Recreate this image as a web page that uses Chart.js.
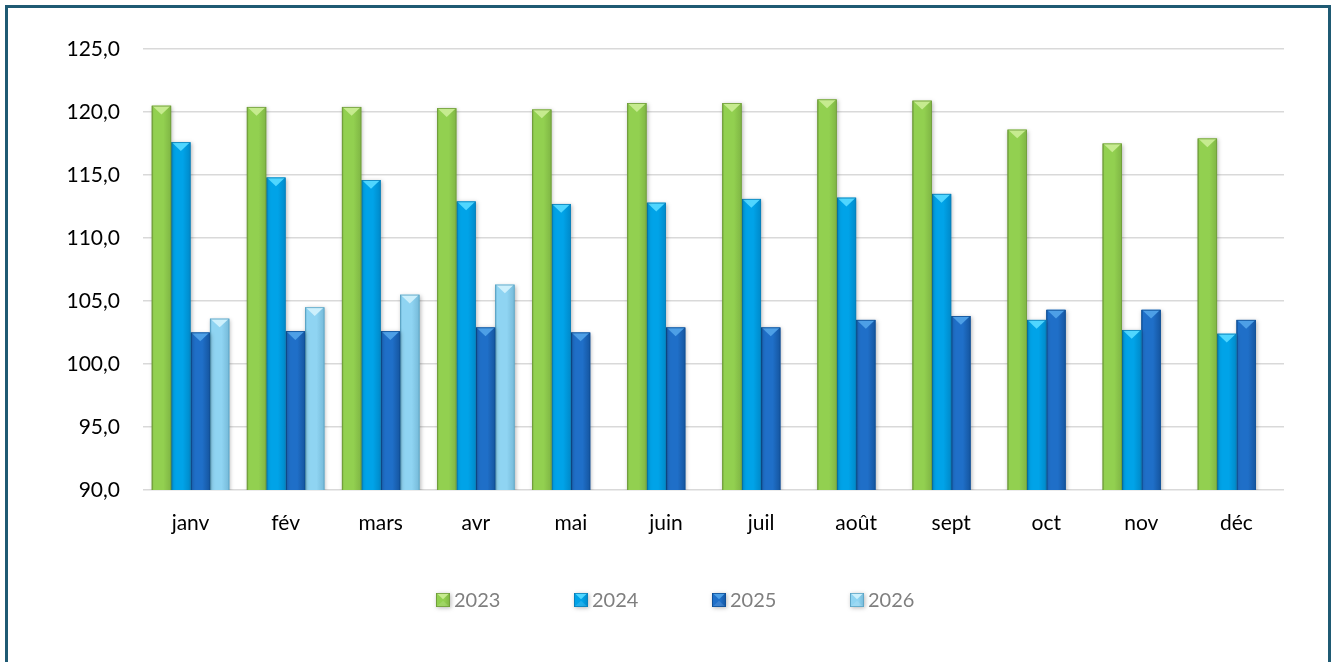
<!DOCTYPE html>
<html lang="fr">
<head>
<meta charset="utf-8">
<script src="https://cdn.jsdelivr.net/npm/chart.js@4.4.1/dist/chart.umd.min.js"></script>
<style>
  html, body { margin: 0; padding: 0; background: #fff; }
  #zone { position: absolute; left: 0; top: 0; width: 1338px; height: 662px; }
  #cadre { position: absolute; left: 5px; top: 5px; width: 1320px; height: 700px;
           border: 3px solid #1f5a73; pointer-events: none; }
</style>
</head>
<body>
<div id="zone"><canvas id="graphique"></canvas></div>
<div id="cadre"></div>
<script>
// Données
let mois = ["janv", "fév", "mars", "avr", "mai", "juin", "juil", "août", "sept", "oct", "nov", "déc"];
let annees = ["2023", "2024", "2025", "2026"];
let val2023 = [120.5, 120.4, 120.4, 120.3, 120.2, 120.7, 120.7, 121.0, 120.9, 118.6, 117.5, 117.9];
let val2024 = [117.6, 114.8, 114.6, 112.9, 112.7, 112.8, 113.1, 113.2, 113.5, 103.5, 102.7, 102.4];
let val2025 = [102.5, 102.6, 102.6, 102.9, 102.5, 102.9, 102.9, 103.5, 103.8, 104.3, 104.3, 103.5];
let val2026 = [103.6, 104.5, 105.5, 106.3, null, null, null, null, null, null, null, null];
let graduations = [90, 95, 100, 105, 110, 115, 120, 125];

// Teintes des barres (bord, milieu, foncé, chapeau)
let teintes = [
  { bord: "#6f9c3a", milieu: "#92d050", fonce: "#7fb544", cap: "#c6eb8f" },
  { bord: "#0a7fb8", milieu: "#00a3e8", fonce: "#0089c9", cap: "#4fd6ff" },
  { bord: "#0e4f96", milieu: "#1f6fc8", fonce: "#15559f", cap: "#4d9fe6" },
  { bord: "#5aa3c4", milieu: "#8fd4f2", fonce: "#75b9d8", cap: "#cdf0fc" }
];

let dessinerBarre = (ctx, l, r, t, b, c) => {
  let w = r - l;
  ctx.save();
  ctx.shadowColor = "rgba(0,0,0,0.28)";
  ctx.shadowBlur = 4;
  ctx.shadowOffsetX = 1;
  ctx.shadowOffsetY = 1;
  let g = ctx.createLinearGradient(l, 0, r, 0);
  g.addColorStop(0, c.bord);
  g.addColorStop(0.1, c.milieu);
  g.addColorStop(0.6, c.milieu);
  g.addColorStop(1, c.fonce);
  ctx.fillStyle = g;
  ctx.fillRect(l, t, w, b - t);
  ctx.restore();
  // chapeau triangulaire
  let h = Math.min(w * 0.45, (b - t) / 2);
  ctx.fillStyle = c.cap;
  ctx.beginPath();
  ctx.moveTo(l + 0.5, t);
  ctx.lineTo(r - 0.5, t);
  ctx.lineTo((l + r) / 2, t + h);
  ctx.closePath();
  ctx.fill();
  // reflet bas
  ctx.fillStyle = "rgba(255,255,255,0.12)";
  ctx.beginPath();
  ctx.moveTo(l, b);
  ctx.lineTo(r, b);
  ctx.lineTo((l + r) / 2, b - h);
  ctx.closePath();
  ctx.fill();
  ctx.strokeStyle = c.bord;
  ctx.lineWidth = 0.8;
  ctx.strokeRect(l + 0.4, t + 0.4, w - 0.8, b - t - 0.8);
};

let barres3D = {
  id: "barres3D",
  afterDatasetDraw(chart, args) {
    let ctx = chart.ctx;
    let c = teintes[args.index];
    let donnees = chart.data.datasets[args.index].data;
    ctx.save();
    ctx.beginPath();
    ctx.rect(chart.chartArea.left - 5, chart.chartArea.top - 5, chart.chartArea.width + 10, chart.chartArea.height + 5);
    ctx.clip();
    args.meta.data.forEach((barre, i) => {
      if (donnees[i] == null) return;
      let p = barre.getProps(["x", "y", "base", "width"], true);
      dessinerBarre(ctx, p.x - p.width / 2, p.x + p.width / 2, p.y, p.base, c);
    });
    ctx.restore();
  },
  afterDraw(chart) {
    // légende dessinée à la main
    let ctx = chart.ctx;
    let pas = 138;
    let x0 = chart.width / 2 - 233;
    let y = 600;
    ctx.save();
    ctx.font = "20px Lato, 'Open Sans', sans-serif";
    ctx.textBaseline = "middle";
    annees.forEach((a, k) => {
      let bx = x0 + k * pas;
      dessinerBarre(ctx, bx, bx + 14, y - 7, y + 7, teintes[k]);
      ctx.fillStyle = "#7f7f7f";
      ctx.fillText(a, bx + 18, y + 1);
    });
    ctx.restore();
  }
};

let transparent = "rgba(0,0,0,0)";
let series = [val2023, val2024, val2025, val2026];

let config = {
  type: "bar",
  data: {
    labels: mois,
    datasets: series.map((s, k) => ({
      label: annees[k],
      data: s,
      backgroundColor: transparent,
      borderWidth: 0,
      categoryPercentage: 0.816,
      barPercentage: 1.0
    }))
  },
  options: {
    responsive: true,
    maintainAspectRatio: false,
    animation: false,
    layout: { padding: { left: 0, right: 54, top: 49, bottom: 122 } },
    plugins: {
      legend: { display: false },
      tooltip: { enabled: false }
    },
    scales: {
      x: {
        grid: { display: false },
        border: { display: false },
        ticks: { color: "#000", padding: 13, font: { size: 21 } },
        afterFit(scale) { scale.height = 50; }
      },
      y: {
        min: 90,
        max: 125,
        grid: { color: "#d9d9d9", lineWidth: 1.6, drawTicks: false },
        border: { display: false },
        afterBuildTicks(scale) { scale.ticks = graduations.map((v) => ({ value: v })); },
        afterFit(scale) { scale.width = 143; },
        ticks: {
          color: "#000",
          padding: 23,
          font: { size: 21 },
          callback: (v) => v.toFixed(1).replace(".", ",")
        }
      }
    }
  },
  plugins: [barres3D]
};

Chart.defaults.font.family = "Lato, 'Open Sans', sans-serif";
let graphique = new Chart(document.getElementById("graphique"), config);
</script>
</body>
</html>
